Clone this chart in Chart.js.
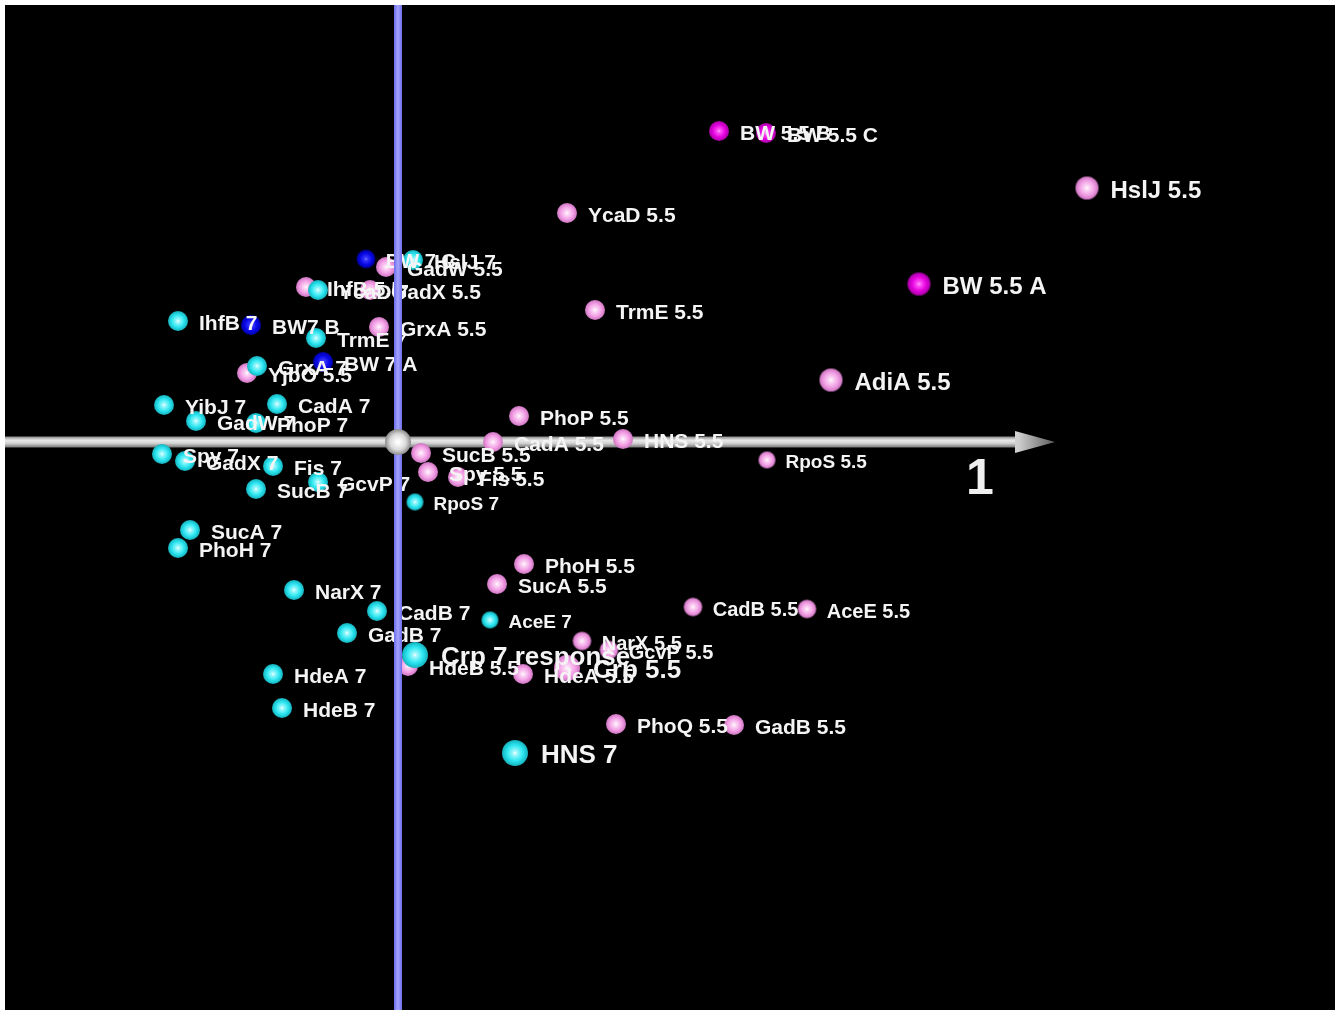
<!DOCTYPE html>
<html>
<head>
<meta charset="utf-8">
<title>pH 7 / pH 5.5 projection</title>
<script src="https://cdn.jsdelivr.net/npm/chart.js@4.4.0/dist/chart.umd.min.js"></script>
<style>
html, body { margin: 0; padding: 0; background: #fff; }
#wrap { width: 1343px; height: 1011px; }
</style>
</head>
<body>
<div id="wrap"><canvas id="chart" width="1343" height="1011"></canvas></div>
<script>
// projected coordinates, origin at the grey ball
// depth = third axis (towards the viewer), makes balls and labels bigger

var ph7Names = ['HslJ 7', 'YcaD 7', 'IhfB 7', 'TrmE 7', 'GrxA 7', 'YibJ 7', 'CadA 7', 'GadW 7',
  'PhoP 7', 'Spy 7', 'GadX 7', 'Fis 7', 'SucB 7', 'GcvP 7', 'RpoS 7', 'SucA 7', 'PhoH 7',
  'NarX 7', 'CadB 7', 'AceE 7', 'GadB 7', 'Crp 7 response', 'HdeA 7', 'HdeB 7', 'HNS 7'];
var ph7X = [0.15, -0.80, -2.20, -0.82, -1.41, -2.34, -1.21, -2.02,
  -1.42, -2.36, -2.13, -1.25, -1.42, -0.80, 0.17, -2.08, -2.20,
  -1.04, -0.21, 0.92, -0.51, 0.17, -1.25, -1.16, 1.17];
var ph7Y = [1.82, 1.52, 1.21, 1.04, 0.76, 0.37, 0.38, 0.21,
  0.19, -0.12, -0.19, -0.24, -0.47, -0.40, -0.60, -0.88, -1.06,
  -1.48, -1.69, -1.78, -1.91, -2.13, -2.32, -2.66, -3.11];
var ph7Depth = [0, 0, 0, 0, 0, 0, 0, 0,
  0, 0, 0, 0, 0, 0, -1, 0, 0,
  0, 0, -1, 0, 2, 0, 0, 2];

var ph55Names = ['HslJ 5.5', 'YcaD 5.5', 'GadW 5.5', 'IhfB 5.5', 'GadX 5.5', 'GrxA 5.5', 'TrmE 5.5',
  'AdiA 5.5', 'YjbO 5.5', 'PhoP 5.5', 'CadA 5.5', 'HNS 5.5', 'RpoS 5.5', 'SucB 5.5', 'Spy 5.5',
  'Fis 5.5', 'PhoH 5.5', 'SucA 5.5', 'CadB 5.5', 'AceE 5.5', 'NarX 5.5', 'GcvP 5.5', 'HdeB 5.5',
  'HdeA 5.5', 'Crp 5.5', 'PhoQ 5.5', 'GadB 5.5'];
var ph55X = [6.89, 1.69, -0.12, -0.92, -0.28, -0.19, 1.97,
  4.33, -1.51, 1.21, 0.95, 2.25, 3.69, 0.23, 0.30,
  0.60, 1.26, 0.99, 2.95, 4.09, 1.84, 2.11, 0.10,
  1.25, 1.69, 2.18, 3.36];
var ph55Y = [2.54, 2.29, 1.75, 1.55, 1.52, 1.15, 1.32,
  0.62, 0.69, 0.26, 0.00, 0.03, -0.18, -0.11, -0.30,
  -0.35, -1.22, -1.42, -1.65, -1.67, -1.99, -2.08, -2.24,
  -2.32, -2.26, -2.82, -2.83];
var ph55Depth = [1, 0, 0, 0, 0, 0, 0,
  1, 0, 0, 0, 0, -1, 0, 0,
  0, 0, 0, -0.5, -0.5, -0.5, -0.5, 0,
  0, 2, 0, 0];

var bw7Names = ['BW 7 C', 'BW7 B', 'BW 7 A'];
var bw7X = [-0.32, -1.47, -0.75];
var bw7Y = [1.83, 1.17, 0.80];
var bw7Depth = [-0.5, 0, 0];

var bw55Names = ['BW 5.5 B', 'BW 5.5 C', 'BW 5.5 A'];
var bw55X = [3.21, 3.68, 5.21];
var bw55Y = [3.11, 3.09, 1.58];
var bw55Depth = [0, 0, 1];

// first axis arrow and its unit mark
var axisHeadStart = 6.20;
var axisTip = 6.57;
var unitText = '1';
var unitX = 5.82;
var unitY = -0.38;

var xMin = -3.93, xMax = 9.37, yMin = -5.68, yMax = 4.37;

var FONT = '"Liberation Sans", Arial, sans-serif';

var ballColors = {
  cyan: ['#ffffff', '#a0f8fc', '#2ae6f0', '#16b0bc'],
  pink: ['#ffffff', '#fcdcf6', '#f3a0e6', '#cc74c0'],
  blue: ['#9090ff', '#3a3aff', '#0808e6', '#0000a8'],
  magenta: ['#ffb0fb', '#ff55f7', '#e400de', '#a400a2'],
  grey: ['#ffffff', '#fafafa', '#d8d8d8', '#8a8a8a']
};

function radiusFor(z) { return 10 + 1.5 * z; }
function fontFor(z) { return Math.round(21 + 2.5 * z); }

var sprites = {};
function ball(name, r) {
  var key = name + '_' + r;
  if (sprites[key]) return sprites[key];
  var cols = ballColors[name];
  var s = Math.ceil(r * 2) + 2;
  var c = document.createElement('canvas');
  c.width = s; c.height = s;
  var g = c.getContext('2d');
  var cx = s / 2;
  var grad = g.createRadialGradient(cx, cx, 0, cx, cx, r);
  grad.addColorStop(0, cols[0]);
  grad.addColorStop(0.16, cols[1]);
  grad.addColorStop(0.62, cols[2]);
  grad.addColorStop(1, cols[3]);
  g.fillStyle = grad;
  g.beginPath();
  g.arc(cx, cx, r, 0, Math.PI * 2);
  g.fill();
  sprites[key] = c;
  return c;
}

function makeSet(label, names, xs, ys, depth, colorName) {
  var pts = xs.map(function (x, i) { return { x: x, y: ys[i] }; });
  return {
    label: label,
    data: pts,
    names: names,
    depth: depth,
    pointStyle: function (ctx) { return ball(colorName, radiusFor(depth[ctx.dataIndex])); },
    pointRadius: function (ctx) { return radiusFor(depth[ctx.dataIndex]); },
    showLine: false
  };
}

var bgPlugin = {
  id: 'blackBox',
  beforeDraw: function (chart) {
    var a = chart.chartArea, ctx = chart.ctx;
    ctx.save();
    ctx.fillStyle = '#fff';
    ctx.fillRect(0, 0, chart.width, chart.height);
    ctx.fillStyle = '#000';
    ctx.fillRect(a.left, a.top, a.right - a.left, a.bottom - a.top);
    ctx.restore();
  },
  beforeDatasetsDraw: function (chart) {
    // horizontal arrow, under the balls
    var ctx = chart.ctx, xs = chart.scales.x, ys = chart.scales.y, a = chart.chartArea;
    var y0 = ys.getPixelForValue(0);
    var xh = xs.getPixelForValue(axisHeadStart), xt = xs.getPixelForValue(axisTip);
    ctx.save();
    var g = ctx.createLinearGradient(0, y0 - 6, 0, y0 + 6);
    g.addColorStop(0, '#7a7a7a');
    g.addColorStop(0.35, '#e8e8e8');
    g.addColorStop(0.6, '#d4d4d4');
    g.addColorStop(1, '#6a6a6a');
    ctx.fillStyle = g;
    ctx.fillRect(a.left, y0 - 5.5, xh - a.left, 11);
    var g2 = ctx.createLinearGradient(xh, 0, xt, 0);
    g2.addColorStop(0, '#d0d0d0');
    g2.addColorStop(1, '#5a5a5a');
    ctx.fillStyle = g2;
    ctx.beginPath();
    ctx.moveTo(xh - 3, y0 - 11);
    ctx.lineTo(xt, y0);
    ctx.lineTo(xh - 3, y0 + 11);
    ctx.closePath();
    ctx.fill();
    ctx.restore();
  },
  afterDatasetsDraw: function (chart) {
    var ctx = chart.ctx, xs = chart.scales.x, ys = chart.scales.y, a = chart.chartArea;
    ctx.save();
    ctx.fillStyle = '#f4f4f4';
    ctx.textBaseline = 'middle';
    chart.data.datasets.forEach(function (ds, di) {
      var meta = chart.getDatasetMeta(di);
      meta.data.forEach(function (pt, i) {
        var z = ds.depth[i];
        ctx.font = 'bold ' + fontFor(z) + 'px ' + FONT;
        ctx.fillText(ds.names[i], pt.x + 21 + 2.5 * z, pt.y + 3);
      });
    });

    // vertical axis over the labels
    var x0 = xs.getPixelForValue(0), y0 = ys.getPixelForValue(0);
    var g = ctx.createLinearGradient(x0 - 4, 0, x0 + 4, 0);
    g.addColorStop(0, '#6c6ce8');
    g.addColorStop(0.5, '#a4a4ff');
    g.addColorStop(1, '#6c6ce8');
    ctx.fillStyle = g;
    ctx.fillRect(x0 - 4, a.top, 8, a.bottom - a.top);

    var b = ball('grey', 13);
    ctx.drawImage(b, x0 - b.width / 2, y0 - b.height / 2);

    ctx.font = 'bold 50px ' + FONT;
    ctx.textAlign = 'center';
    ctx.fillStyle = '#f0f0f0';
    ctx.fillText(unitText, xs.getPixelForValue(unitX), ys.getPixelForValue(unitY));
    ctx.restore();
  }
};

new Chart(document.getElementById('chart'), {
  type: 'scatter',
  data: {
    datasets: [
      makeSet('BW 7', bw7Names, bw7X, bw7Y, bw7Depth, 'blue'),
      makeSet('pH 7', ph7Names, ph7X, ph7Y, ph7Depth, 'cyan'),
      makeSet('pH 5.5', ph55Names, ph55X, ph55Y, ph55Depth, 'pink'),
      makeSet('BW 5.5', bw55Names, bw55X, bw55Y, bw55Depth, 'magenta')
    ]
  },
  options: {
    responsive: false,
    animation: false,
    events: [],
    layout: { autoPadding: false, padding: { left: 5, top: 5, right: 8, bottom: 1 } },
    plugins: { legend: { display: false }, tooltip: { enabled: false } },
    scales: {
      x: { type: 'linear', min: xMin, max: xMax, display: false },
      y: { type: 'linear', min: yMin, max: yMax, display: false }
    }
  },
  plugins: [bgPlugin]
});
</script>
</body>
</html>
